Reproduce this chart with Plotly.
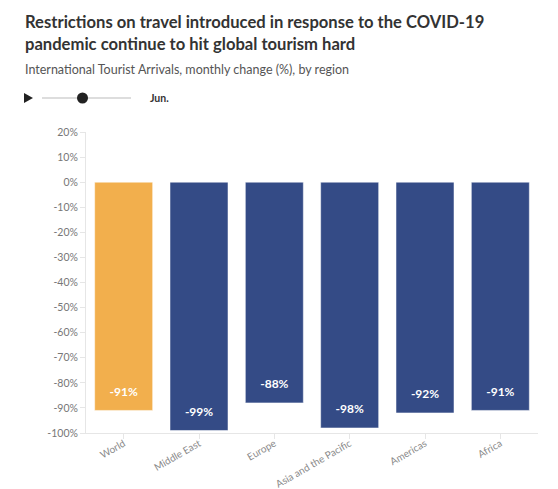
import plotly.graph_objects as go

regions = ["World", "Middle East", "Europe", "Asia and the Pacific", "Americas", "Africa"]
changes = [-91, -99, -88, -98, -92, -91]
bar_colors = ["#F2AF4D", "#344B86", "#344B86", "#344B86", "#344B86", "#344B86"]
ytick_vals = [20, 10, 0, -10, -20, -30, -40, -50, -60, -70, -80, -90, -100]
ytick_text = [f"{v}%" for v in ytick_vals]

W, H = 558, 489
L, R, T, B = 86, 20, 132, 56
pw, ph = W - L - R, H - T - B

def px(x):
    return (x - L) / pw

def py(y):
    return (H - B - y) / ph

font = "Lato, 'Source Sans Pro', 'Open Sans', sans-serif"

fig = go.Figure()
fig.add_trace(go.Bar(
    x=regions, y=changes,
    marker=dict(color=bar_colors, line=dict(color="rgba(255,255,255,0.5)", width=1)),
    width=0.77, hoverinfo="skip",
))
# value labels placed a little above the bar end
fig.add_trace(go.Scatter(
    x=regions, y=[v + 7 for v in changes], mode="text",
    text=[f"{v}%" for v in changes], textposition="middle center",
    textfont=dict(color="white", size=12, family=font, weight="bold"),
    hoverinfo="skip", cliponaxis=False,
))

fig.update_layout(
    width=W, height=H, margin=dict(l=L, r=R, t=T, b=B),
    paper_bgcolor="white", plot_bgcolor="white",
    showlegend=False, font=dict(family=font),
    xaxis=dict(showline=True, linecolor="#e6e6e6", linewidth=1, ticks="outside",
               tickcolor="#e6e6e6", ticklen=5, tickangle=-30, showgrid=False,
               automargin=False, ticklabeloverflow="allow",
               tickfont=dict(size=10, color="#8a8a8a", family=font)),
    yaxis=dict(range=[-100, 20], tickvals=ytick_vals, ticktext=ytick_text,
               showline=True, linecolor="#e6e6e6", linewidth=1, ticks="outside",
               tickcolor="#e6e6e6", ticklen=5, showgrid=False, zeroline=False,
               automargin=False,
               tickfont=dict(size=10.5, color="#777777", family=font)),
)
try:
    fig.update_xaxes(ticklabelstandoff=-5)
except Exception:
    fig.update_xaxes(ticklen=3)

annotations = [
    dict(text="<b>Restrictions on travel introduced in response to the COVID-19<br>pandemic continue to hit global tourism hard</b>",
         x=px(23), y=py(10), xanchor="left", yanchor="top", align="left",
         font=dict(size=16.6, color="#333333", family=font)),
    dict(text="International Tourist Arrivals, monthly change (%), by region",
         x=px(23), y=py(60), xanchor="left", yanchor="top", align="left",
         font=dict(size=12.5, color="#555555", family=font)),
    dict(text="<b>Jun.</b>", x=px(148), y=py(98), xanchor="left", yanchor="middle",
         font=dict(size=10.5, color="#333333", family=font)),
]
for a in annotations:
    a.update(xref="paper", yref="paper", showarrow=False)
fig.update_layout(annotations=annotations)

shapes = [
    dict(type="path", path=f"M {px(24)} {py(93)} L {px(24)} {py(103)} L {px(33)} {py(98)} Z",
         fillcolor="#222222", line=dict(width=0)),
    dict(type="line", x0=px(42), x1=px(131), y0=py(98), y1=py(98),
         line=dict(color="#dddddd", width=2)),
    dict(type="circle", x0=px(77), x1=px(88), y0=py(92.5), y1=py(103.5),
         fillcolor="#222222", line=dict(width=0)),
]
for s in shapes:
    s.update(xref="paper", yref="paper")
fig.update_layout(shapes=shapes)

fig.write_html("out.html")
